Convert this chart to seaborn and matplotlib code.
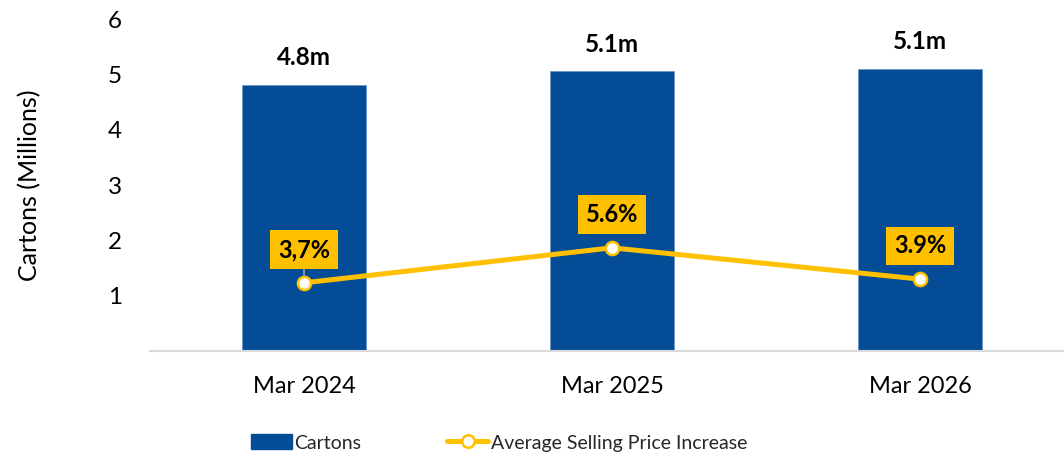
import matplotlib
matplotlib.use("Agg")
import matplotlib.pyplot as plt
import seaborn as sns
import numpy as np
import pandas as pd
from matplotlib.patches import Patch
from matplotlib.lines import Line2D

# ---- data ----
categories = ["Mar 2024", "Mar 2025", "Mar 2026"]
cartons = [4.82, 5.06, 5.11]
carton_labels = ["4.8m", "5.1m", "5.1m"]
asp_increase = [3.7, 5.6, 3.9]
asp_labels = ["3,7%", "5.6%", "3.9%"]

BLUE = "#054C96"
GOLD = "#FFC000"

sns.set_theme(style="white")
plt.rcParams["font.family"] = ["Lato", "DejaVu Sans"]

fig = plt.figure(figsize=(10.64, 4.59), dpi=100)
ax = fig.add_axes([150 / 1064, 1 - 351 / 459, 924 / 1064, (351 - 19.3) / 459])

df = pd.DataFrame({"cat": categories, "cartons": cartons})
sns.barplot(data=df, x="cat", y="cartons", ax=ax, color=BLUE, width=0.4,
            saturation=1, edgecolor="#6F95C4", linewidth=0.6)

ax.set_ylim(0, 6)
ax.set_xlim(-0.5, len(categories) - 0.5)
ax.set_yticks([1, 2, 3, 4, 5, 6])
ax.tick_params(axis="y", length=0, pad=20, labelsize=17.5, labelcolor="black")
ax.tick_params(axis="x", length=0, pad=18, labelsize=17, labelcolor="black")
ax.set_xlabel("")
ax.set_ylabel("Cartons (Millions)", fontsize=18, color="black")
ax.yaxis.set_label_coords(-0.118, 0.5)
for s in ["top", "right", "left"]:
    ax.spines[s].set_visible(False)
ax.spines["bottom"].set_color("#D9D9D9")
ax.spines["bottom"].set_linewidth(1.5)

ax.bar_label(ax.containers[0], labels=carton_labels, padding=11,
             fontsize=17.5, fontweight="bold", color="black")

# secondary (hidden) axis for line
ax2 = ax.twinx()
xpos = np.arange(len(categories))
sns.lineplot(x=xpos, y=asp_increase, ax=ax2, color=GOLD, linewidth=3.6,
             marker="o", markersize=9.5, markerfacecolor="white",
             markeredgecolor=GOLD, markeredgewidth=1.8, zorder=5)
ax2.set_ylim(0, 18)
ax2.set_xlim(-0.5, len(categories) - 0.5)
ax2.axis("off")

for i, (v, lab) in enumerate(zip(asp_increase, asp_labels)):
    arrow = dict(arrowstyle="-", color="#A0A0A0", lw=1.2, shrinkA=0, shrinkB=5) if i == 0 else None
    ax2.annotate(lab, xy=(i, v), xytext=(0, 24), textcoords="offset points",
                 ha="center", va="center", fontsize=17, fontweight="bold",
                 color="black",
                 bbox=dict(boxstyle="square,pad=0.33", fc=GOLD, ec="none"),
                 arrowprops=arrow, zorder=6)

handles = [
    Patch(facecolor=BLUE, edgecolor=BLUE, label="Cartons"),
    Line2D([0], [0], color=GOLD, lw=3.6, marker="o", markersize=9,
           markerfacecolor="white", markeredgecolor=GOLD, markeredgewidth=1.8,
           label="Average Selling Price Increase"),
]
fig.legend(handles=handles, loc="center", bbox_to_anchor=(0.469, 0.035),
           ncol=2, frameon=False, fontsize=14, handlelength=2.1,
           handletextpad=0.15, columnspacing=4.4, handleheight=0.8)

fig.savefig("out.png", dpi=100)
